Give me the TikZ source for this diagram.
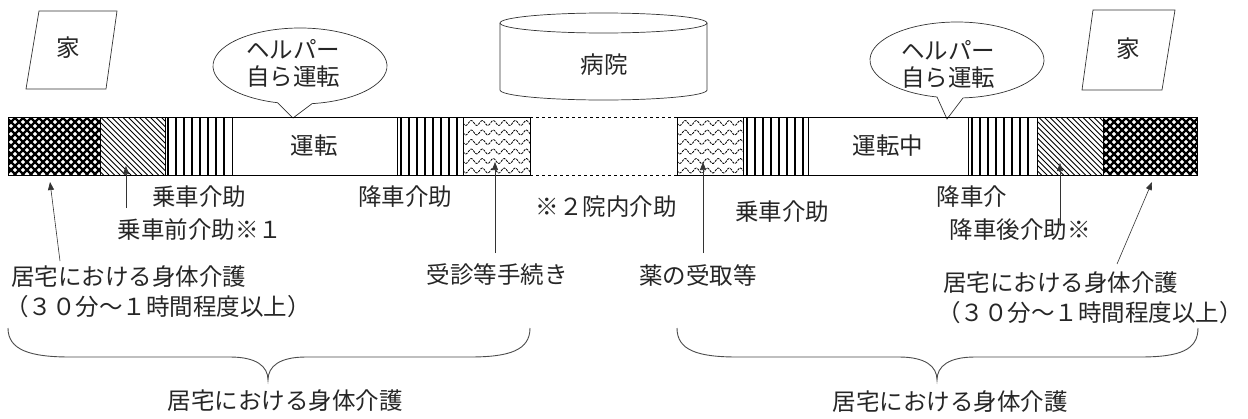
\documentclass[tikz,border=0pt]{standalone}
\usepackage{fontspec}
\setmainfont{Noto Sans CJK JP}
\usetikzlibrary{arrows.meta}
\begin{document}
\begin{tikzpicture}[x=1pt,y=-1pt,
  lbl/.style={font=\fontsize{23.5}{27}\selectfont, inner sep=0pt, text=black!85},
  seg/.style={draw=black, line width=0.6pt},
  vl/.style={line width=1.5pt},
  arr/.style={-{Triangle[length=8pt,width=6pt]}, line width=0.6pt, draw=black!80},
  outl/.style={draw=black!80, line width=0.7pt},
  brace/.style={draw=black!70, line width=0.9pt}]
\useasboundingbox (0,0) rectangle (1248,418);
\fill[white] (0,0) rectangle (1248,418);

% ---- houses ----
\draw[outl] (39,11) -- (117,11) -- (106,89) -- (26,89) -- cycle;
\node[lbl] (ie1) at (68,48) {家};
\draw[outl] (1093,10) -- (1175,10) -- (1162,90) -- (1082,90) -- cycle;
\node[lbl] (ie2) at (1128,49) {家};

% ---- hospital ----
\draw[outl] (500,23) -- (500,90) arc[start angle=180, end angle=0, x radius=103.5, y radius=10] -- (707,23);
\draw[outl] (603.5,23) ellipse [x radius=103.5, y radius=10];
\node[lbl] (byoin) at (604,65) {病院};

% ---- speech bubbles ----
\draw[outl] (300,66) ++(82:87 and 38) arc[start angle=82, end angle=-255, x radius=87, y radius=38] -- (293,118) -- cycle;
\node[lbl, align=center] (bub1) at (293,63) {ヘルパー\\自ら運転};
\draw[outl] (957,60) ++(86:87 and 38) arc[start angle=86, end angle=-256.7, x radius=87, y radius=38] -- (947,119) -- cycle;
\node[lbl, align=center] (bub2) at (948,64) {ヘルパー\\自ら運転};

% ---- bar segments ----
% A crosshatch
\begin{scope}
\clip (8,117) rectangle (100,175);
\foreach \x in {-58,-50,...,100} \draw[line width=2.2pt] (\x,117) -- ++(58,58);
\foreach \x in {8,16,...,166} \draw[line width=2.2pt] (\x,117) -- ++(-58,58);
\end{scope}
\draw[seg] (8,117) rectangle (100,175);
% B diagonal
\begin{scope}
\clip (100,117) rectangle (165,175);
\foreach \x in {40,45.5,...,166} \draw[line width=0.9pt] (\x,117) -- ++(58,58);
\end{scope}
\draw[seg] (100,117) rectangle (165,175);
% C vertical
\foreach \x in {168,176,...,230} \draw[vl] (\x,117) -- (\x,175);
\draw[seg] (165,117) rectangle (232,175);
% D white
\draw[seg] (232,117) rectangle (397,175);
\node[lbl] (unten) at (314,146) {運転};
% E vertical
\foreach \x in {401,409,...,461} \draw[vl] (\x,117) -- (\x,175);
\draw[seg] (397,117) rectangle (463,175);
% F waves
\begin{scope}
\clip (463,117) rectangle (530,175);
\foreach \r in {123,132.5,...,172} \draw[line width=0.8pt, dash pattern=on 2.5pt off 1pt] plot[domain=0:68, samples=60, smooth] ({\x+463}, {\r+2.5*sin(\x*32.7)});
\end{scope}
\draw[seg] (463,117) rectangle (530,175);
% G dashed gap
\draw[seg, dashed] (530,117) -- (677,117);
\draw[seg, dashed] (530,175) -- (677,175);
% H waves
\begin{scope}
\clip (677,117) rectangle (743,175);
\foreach \r in {123,132.5,...,172} \draw[line width=0.8pt, dash pattern=on 2.5pt off 1pt] plot[domain=0:67, samples=60, smooth] ({\x+677}, {\r+2.5*sin(\x*32.7)});
\end{scope}
\draw[seg] (677,117) rectangle (743,175);
% I vertical
\foreach \x in {747,755,...,806} \draw[vl] (\x,117) -- (\x,175);
\draw[seg] (743,117) rectangle (808,175);
% J white
\draw[seg] (808,117) rectangle (968,175);
\node[lbl] (untenchu) at (888,146) {運転中};
% K vertical
\foreach \x in {972,980,...,1035} \draw[vl] (\x,117) -- (\x,175);
\draw[seg] (968,117) rectangle (1037,175);
% L diagonal
\begin{scope}
\clip (1037,117) rectangle (1103,175);
\foreach \x in {978,983.5,...,1104} \draw[line width=0.9pt] (\x,117) -- ++(58,58);
\end{scope}
\draw[seg] (1037,117) rectangle (1103,175);
% M crosshatch
\begin{scope}
\clip (1103,117) rectangle (1197,175);
\foreach \x in {1045,1053,...,1197} \draw[line width=2.2pt] (\x,117) -- ++(58,58);
\foreach \x in {1103,1111,...,1260} \draw[line width=2.2pt] (\x,117) -- ++(-58,58);
\end{scope}
\draw[seg] (1103,117) rectangle (1197,175);

% ---- labels ----
\node[lbl] (jo1) at (199,197) {乗車介助};
\node[lbl] (jomae) at (200,230) {乗車前介助※１};
\node[lbl, anchor=west] (kyo1) at (11,277) {居宅における身体介護};
\node[lbl, anchor=west] (ji1) at (5,307) {（３０分～１時間程度以上）};
\node[lbl] (ko1) at (405,197) {降車介助};
\node[lbl] (jushin) at (497,275) {受診等手続き};
\node[lbl] (innai) at (606,207) {※２院内介助};
\node[lbl] (jo2) at (782,212) {乗車介助};
\node[lbl] (kusuri) at (698,275) {薬の受取等};
\node[lbl] (ko2) at (972,197) {降車介};
\node[lbl] (kogo) at (1020,230) {降車後介助※};
\node[lbl, anchor=west] (kyo2) at (943,283) {居宅における身体介護};
\node[lbl, anchor=west] (ji2) at (937,313) {（３０分～１時間程度以上）};
\node[lbl] (sum1) at (285,401) {居宅における身体介護};
\node[lbl] (sum2) at (950,402) {居宅における身体介護};

% ---- arrows ----
\coordinate (t1) at (60,261); \coordinate (h1) at (50,182);
\coordinate (t2) at (126,208); \coordinate (h2) at (126,166);
\coordinate (t3) at (495,253); \coordinate (h3) at (495,162);
\coordinate (t4) at (703,253); \coordinate (h4) at (703,162);
\coordinate (t5) at (1060,226); \coordinate (h5) at (1060,163);
\coordinate (t6) at (1117,264); \coordinate (h6) at (1152,182);
\draw[arr] (t1) -- (h1);
\draw[arr] (t2) -- (h2);
\draw[arr] (t3) -- (h3);
\draw[arr] (t4) -- (h4);
\draw[arr] (t5) -- (h5);
\draw[arr] (t6) -- (h6);

% ---- braces ----
\draw[brace] (8,328) .. controls (8,350) and (30,357) .. (70,357) -- (230,357) .. controls (256,357) and (268,366) .. (268,380) .. controls (268,366) and (280,357) .. (306,357) -- (470,357) .. controls (510,357) and (530,350) .. (530,328);
\draw[brace] (677,328) .. controls (677,350) and (697,357) .. (737,357) -- (899,357) .. controls (925,357) and (937,366) .. (937,380) .. controls (937,366) and (949,357) .. (975,357) -- (1140,357) .. controls (1180,357) and (1198,350) .. (1198,328);
\end{tikzpicture}
\end{document}
